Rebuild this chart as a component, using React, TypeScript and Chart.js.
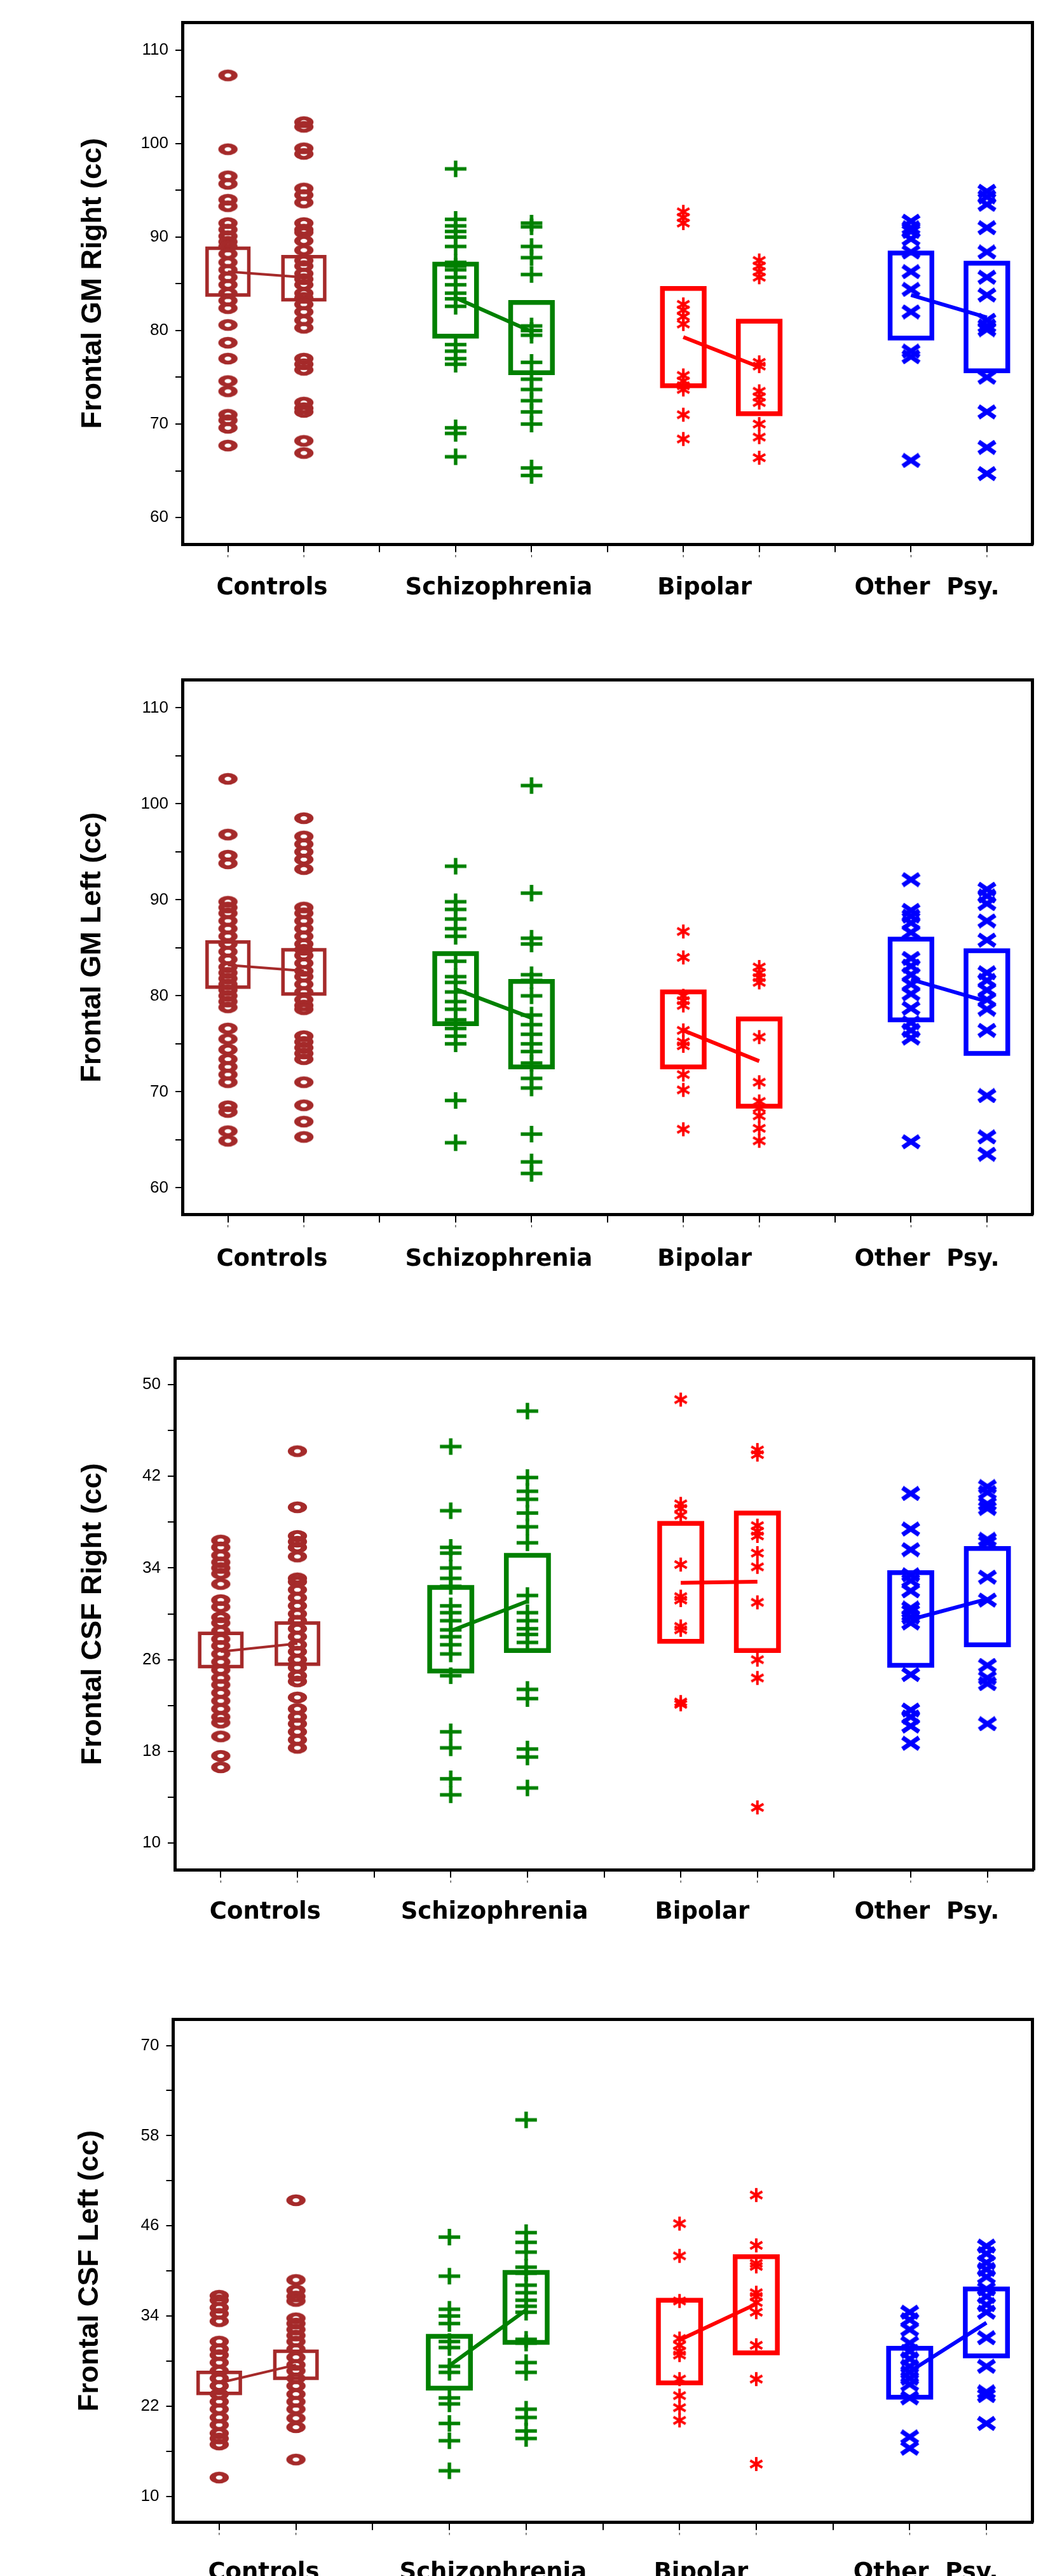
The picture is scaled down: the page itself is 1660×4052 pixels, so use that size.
import React, { useEffect, useRef } from 'react';
import { Chart, registerables } from 'chart.js';

Chart.register(...registerables);

const BROWN = '#A52A2A';
const GREEN = '#008000';
const RED = '#FF0000';
const BLUE = '#0000FF';
const groupColors = [BROWN, GREEN, RED, BLUE];

// ---------- shared categories / ticks ----------
const groupNames = ['Controls', 'Schizophrenia', 'Bipolar', 'Other  Psy.'];
const groupLabelPos = [1.58, 4.57, 7.28, 10.21];
const columnX = [1, 2, 4, 5, 7, 8, 10, 11];
const xTickValues = [1, 2, 3, 4, 5, 6, 7, 8, 9, 10, 11];
const xGapTicks = [3, 6, 9];
const xMin = 0.4;
const xMax = 11.6;

// ---------- Panel 1: Frontal GM Right ----------
const gmRightTitle = 'Frontal GM Right (cc)';
const gmRightControls1 = [107.3, 99.4, 96.5, 95.7, 94.0, 93.3, 91.5, 90.8, 90.1, 89.5, 89.0, 88.2, 87.3, 86.5, 85.7, 84.9, 84.0, 83.2, 82.4, 80.6, 78.7, 77.0, 74.6, 73.5, 71.0, 70.4, 69.6, 67.7];
const gmRightControls2 = [102.3, 101.8, 99.5, 98.9, 95.2, 94.5, 93.7, 91.5, 90.8, 90.5, 89.6, 88.6, 87.5, 86.9, 86.1, 85.5, 84.9, 84.0, 83.5, 82.8, 82.0, 81.1, 80.3, 77.0, 76.4, 75.8, 72.3, 71.7, 71.3, 68.2, 66.9];
const gmRightSchizo1 = [97.3, 91.9, 91.2, 90.6, 90.0, 89.0, 87.3, 86.9, 86.5, 85.7, 84.9, 84.0, 83.4, 82.6, 78.5, 77.8, 77.0, 76.4, 69.6, 69.0, 66.5];
const gmRightSchizo2 = [91.5, 91.1, 89.0, 87.8, 86.0, 80.5, 80.0, 79.5, 76.6, 74.8, 73.7, 72.5, 71.3, 70.0, 65.3, 64.5];
const gmRightBipolar1 = [92.7, 92.1, 91.5, 82.8, 82.2, 81.5, 80.7, 75.2, 74.6, 74.1, 73.7, 71.0, 68.4];
const gmRightBipolar2 = [87.5, 86.9, 86.3, 85.7, 76.6, 76.2, 73.5, 72.9, 72.3, 70.0, 68.6, 66.4];
const gmRightOther1 = [91.7, 91.0, 90.6, 89.8, 88.4, 86.3, 84.4, 82.0, 77.8, 77.2, 66.1];
const gmRightOther2 = [94.9, 94.3, 93.5, 91.0, 88.4, 85.7, 83.8, 81.1, 80.5, 80.1, 75.0, 71.3, 67.5, 64.7];
const gmRightBoxLow = [83.8, 83.3, 79.4, 75.5, 74.1, 71.1, 79.2, 75.7];
const gmRightBoxHigh = [88.8, 87.9, 87.1, 83.0, 84.5, 81.0, 88.3, 87.2];
const gmRightMeans = [86.3, 85.7, 83.5, 79.9, 79.3, 76.1, 83.8, 81.4];
const gmTicks = [60, 65, 70, 75, 80, 85, 90, 95, 100, 105, 110];
const gmTickLabels = [60, 70, 80, 90, 100, 110];

// ---------- Panel 2: Frontal GM Left ----------
const gmLeftTitle = 'Frontal GM Left (cc)';
const gmLeftControls1 = [102.6, 96.8, 94.6, 93.8, 89.8, 89.2, 88.6, 87.8, 87.0, 86.2, 85.4, 84.6, 83.8, 83.0, 82.4, 81.8, 81.2, 80.6, 80.0, 79.4, 78.8, 76.6, 75.5, 74.4, 73.4, 72.6, 71.8, 71.0, 68.5, 67.9, 65.9, 64.9];
const gmLeftControls2 = [98.5, 96.6, 95.8, 95.0, 94.2, 93.2, 89.2, 88.6, 87.8, 87.0, 86.2, 85.4, 84.8, 84.2, 83.4, 82.6, 82.0, 81.2, 80.4, 79.6, 79.0, 78.6, 75.8, 75.2, 74.6, 74.0, 73.4, 71.0, 68.6, 66.9, 65.3];
const gmLeftSchizo1 = [93.5, 89.8, 89.0, 88.0, 87.0, 86.2, 83.6, 82.0, 81.4, 80.4, 79.4, 78.6, 77.5, 76.6, 75.8, 75.0, 69.1, 64.7];
const gmLeftSchizo2 = [101.9, 90.7, 86.0, 85.4, 82.2, 81.6, 80.0, 78.0, 77.0, 76.0, 75.0, 74.2, 73.0, 71.4, 70.4, 65.6, 62.7, 61.5];
const gmLeftBipolar1 = [86.7, 84.0, 80.0, 79.5, 79.0, 76.4, 75.2, 74.8, 71.8, 70.2, 66.1];
const gmLeftBipolar2 = [83.0, 82.4, 81.9, 81.4, 75.7, 71.0, 69.0, 68.3, 67.5, 66.2, 64.9];
const gmLeftOther1 = [92.1, 88.9, 88.3, 87.6, 86.6, 83.9, 83.1, 82.2, 81.2, 80.2, 78.7, 77.2, 76.4, 75.6, 64.8];
const gmLeftOther2 = [91.1, 90.4, 89.6, 87.8, 85.8, 82.4, 81.6, 80.6, 79.6, 78.6, 76.4, 69.6, 65.3, 63.5];
const gmLeftBoxLow = [80.9, 80.2, 77.1, 72.6, 72.6, 68.5, 77.5, 74.0];
const gmLeftBoxHigh = [85.6, 84.8, 84.4, 81.5, 80.4, 77.6, 85.9, 84.7];
const gmLeftMeans = [83.2, 82.6, 80.7, 77.7, 76.4, 73.2, 81.7, 79.4];

// ---------- Panel 3: Frontal CSF Right ----------
const csfRightTitle = 'Frontal CSF Right (cc)';
const csfRightControls1 = [36.4, 35.8, 35.1, 34.5, 34.0, 33.5, 32.6, 31.2, 30.6, 29.7, 29.2, 28.5, 27.8, 27.2, 26.5, 25.8, 25.1, 24.4, 23.8, 23.1, 22.4, 21.7, 21.0, 20.5, 19.3, 17.6, 16.6];
const csfRightControls2 = [44.2, 39.3, 36.8, 36.3, 35.8, 35.0, 33.1, 32.8, 32.1, 31.4, 30.7, 30.0, 29.4, 28.7, 28.0, 27.3, 26.7, 26.0, 25.3, 24.6, 24.1, 22.7, 21.7, 21.0, 20.4, 19.7, 19.0, 18.3];
const csfRightSchizo1 = [44.6, 39.0, 35.8, 35.3, 34.0, 33.1, 32.4, 30.7, 30.1, 29.4, 28.6, 28.0, 27.3, 26.5, 24.6, 19.7, 18.3, 15.6, 14.2];
const csfRightSchizo2 = [47.7, 41.9, 40.7, 40.0, 38.8, 37.6, 36.2, 31.6, 30.1, 29.4, 28.7, 28.2, 27.5, 23.4, 22.6, 18.2, 17.5, 14.8];
const csfRightBipolar1 = [48.7, 39.6, 39.2, 38.6, 34.3, 31.5, 31.2, 28.9, 28.6, 22.3, 22.1];
const csfRightBipolar2 = [44.3, 43.9, 37.7, 37.2, 36.8, 35.3, 34.1, 31.0, 26.0, 24.4, 13.1];
const csfRightOther1 = [40.5, 37.4, 35.6, 33.4, 32.9, 32.0, 30.5, 30.2, 29.7, 29.2, 24.7, 21.6, 21.0, 20.2, 18.7];
const csfRightOther2 = [41.1, 40.6, 39.6, 39.2, 36.5, 36.2, 33.2, 31.2, 25.5, 24.4, 23.9, 20.4];
const csfRightBoxLow = [25.4, 25.6, 25.0, 26.8, 27.6, 26.8, 25.5, 27.3];
const csfRightBoxHigh = [28.3, 29.2, 32.3, 35.1, 37.9, 38.8, 33.6, 35.7];
const csfRightMeans = [26.7, 27.4, 28.5, 31.1, 32.7, 32.8, 29.5, 31.3];
const csfRightTicks = [10, 14, 18, 22, 26, 30, 34, 38, 42, 46, 50];
const csfRightTickLabels = [10, 18, 26, 34, 42, 50];

// ---------- Panel 4: Frontal CSF Left ----------
const csfLeftTitle = 'Frontal CSF Left (cc)';
const csfLeftControls1 = [36.7, 36.1, 35.1, 34.3, 33.3, 30.6, 29.6, 28.8, 27.8, 26.7, 25.7, 24.7, 23.6, 22.6, 21.6, 20.5, 19.5, 18.4, 17.7, 16.9, 12.5];
const csfLeftControls2 = [49.4, 38.8, 37.4, 36.6, 36.0, 33.7, 33.0, 32.2, 31.4, 30.6, 29.6, 28.5, 27.5, 26.7, 25.7, 24.7, 23.6, 22.6, 21.6, 20.4, 19.2, 14.9];
const csfLeftSchizo1 = [44.5, 39.3, 34.9, 34.0, 33.0, 30.6, 29.8, 27.3, 26.5, 23.1, 22.3, 19.7, 17.4, 13.4];
const csfLeftSchizo2 = [60.1, 45.1, 43.8, 42.5, 40.5, 39.7, 38.1, 37.1, 36.1, 35.3, 34.5, 30.9, 30.4, 27.8, 26.5, 21.6, 20.5, 18.7, 17.7];
const csfLeftBipolar1 = [46.3, 42.0, 36.0, 31.0, 30.1, 29.3, 28.8, 25.6, 23.4, 21.8, 20.1];
const csfLeftBipolar2 = [50.1, 43.4, 41.0, 40.6, 37.1, 36.6, 35.8, 34.5, 30.1, 25.6, 14.3];
const csfLeftOther1 = [34.5, 33.5, 32.2, 30.4, 29.3, 28.3, 27.3, 26.5, 25.7, 24.9, 23.1, 17.9, 16.4];
const csfLeftOther2 = [43.3, 42.3, 41.1, 40.2, 39.2, 37.6, 36.6, 35.5, 34.5, 31.1, 27.3, 23.9, 23.4, 19.7];
const csfLeftBoxLow = [23.7, 25.7, 24.4, 30.5, 25.1, 29.1, 23.2, 28.7];
const csfLeftBoxHigh = [26.5, 29.3, 31.3, 39.8, 36.1, 41.9, 29.7, 37.6];
const csfLeftMeans = [25.1, 27.5, 27.4, 34.8, 30.8, 35.6, 26.6, 33.1];
const csfLeftTicks = [10, 16, 22, 28, 34, 40, 46, 52, 58, 64, 70];
const csfLeftTickLabels = [10, 22, 34, 46, 58, 70];

type PanelSpec = {
  title: string;
  cols: number[][];
  boxLow: number[];
  boxHigh: number[];
  means: number[];
  yMin: number;
  yMax: number;
  yTicks: number[];
  yLabels: number[];
};

const panels: PanelSpec[] = [
  {
    title: gmRightTitle,
    cols: [gmRightControls1, gmRightControls2, gmRightSchizo1, gmRightSchizo2, gmRightBipolar1, gmRightBipolar2, gmRightOther1, gmRightOther2],
    boxLow: gmRightBoxLow, boxHigh: gmRightBoxHigh, means: gmRightMeans,
    yMin: 57.12, yMax: 112.97, yTicks: gmTicks, yLabels: gmTickLabels,
  },
  {
    title: gmLeftTitle,
    cols: [gmLeftControls1, gmLeftControls2, gmLeftSchizo1, gmLeftSchizo2, gmLeftBipolar1, gmLeftBipolar2, gmLeftOther1, gmLeftOther2],
    boxLow: gmLeftBoxLow, boxHigh: gmLeftBoxHigh, means: gmLeftMeans,
    yMin: 57.19, yMax: 112.89, yTicks: gmTicks, yLabels: gmTickLabels,
  },
  {
    title: csfRightTitle,
    cols: [csfRightControls1, csfRightControls2, csfRightSchizo1, csfRightSchizo2, csfRightBipolar1, csfRightBipolar2, csfRightOther1, csfRightOther2],
    boxLow: csfRightBoxLow, boxHigh: csfRightBoxHigh, means: csfRightMeans,
    yMin: 7.63, yMax: 52.31, yTicks: csfRightTicks, yLabels: csfRightTickLabels,
  },
  {
    title: csfLeftTitle,
    cols: [csfLeftControls1, csfLeftControls2, csfLeftSchizo1, csfLeftSchizo2, csfLeftBipolar1, csfLeftBipolar2, csfLeftOther1, csfLeftOther2],
    boxLow: csfLeftBoxLow, boxHigh: csfLeftBoxHigh, means: csfLeftMeans,
    yMin: 6.53, yMax: 73.47, yTicks: csfLeftTicks, yLabels: csfLeftTickLabels,
  },
];

// ---------- layout (pixels) ----------
type Layout = {
  top: number; h: number; frameTop: number; frameBottom: number;
  frameLeft: number; frameRight: number; titleCenter: number; catOffset: number;
};
const layouts: Layout[] = [
  { top: 0, h: 1000, frameTop: 35.2, frameBottom: 856.4, frameLeft: 287, frameRight: 1624.5, titleCenter: 147, catOffset: 69 },
  { top: 1000, h: 1060, frameTop: 69.7, frameBottom: 910.9, frameLeft: 287, frameRight: 1624.5, titleCenter: 146, catOffset: 70 },
  { top: 2060, h: 1030, frameTop: 76.5, frameBottom: 881.6, frameLeft: 275, frameRight: 1626, titleCenter: 147, catOffset: 67 },
  { top: 3090, h: 962, frameTop: 86.5, frameBottom: 877.7, frameLeft: 272.5, frameRight: 1624.5, titleCenter: 142, catOffset: 80 },
];

const BOX_HALF = 0.275;
const X_AXIS_H = 35;
const CAT_FONT = 37;
const TITLE_FONT = 45;

function makeMarker(kind: number): HTMLCanvasElement {
  const c = document.createElement('canvas');
  if (kind === 0) {
    c.width = 34; c.height = 22;
    const ctx = c.getContext('2d')!;
    ctx.translate(17, 11);
    ctx.scale(1.65, 1);
    ctx.beginPath();
    ctx.arc(0, 0, 6.2, 0, Math.PI * 2);
    ctx.lineWidth = 6;
    ctx.strokeStyle = BROWN;
    ctx.stroke();
  } else if (kind === 1) {
    c.width = 36; c.height = 28;
    const ctx = c.getContext('2d')!;
    ctx.strokeStyle = GREEN;
    ctx.lineWidth = 5.5;
    ctx.beginPath();
    ctx.moveTo(1, 14); ctx.lineTo(35, 14);
    ctx.moveTo(18, 1); ctx.lineTo(18, 27);
    ctx.stroke();
  } else if (kind === 2) {
    c.width = 26; c.height = 26;
    const ctx = c.getContext('2d')!;
    ctx.strokeStyle = RED;
    ctx.lineWidth = 4;
    ctx.translate(13, 13);
    ctx.beginPath();
    for (const a of [90, 30, 150]) {
      const r = (a * Math.PI) / 180;
      ctx.moveTo(-11 * Math.cos(r), -11 * Math.sin(r));
      ctx.lineTo(11 * Math.cos(r), 11 * Math.sin(r));
    }
    ctx.stroke();
  } else {
    c.width = 32; c.height = 24;
    const ctx = c.getContext('2d')!;
    ctx.strokeStyle = BLUE;
    ctx.lineWidth = 7;
    ctx.beginPath();
    ctx.moveTo(3, 3); ctx.lineTo(29, 21);
    ctx.moveTo(29, 3); ctx.lineTo(3, 21);
    ctx.stroke();
  }
  return c;
}

function buildConfig(spec: PanelSpec, lay: Layout, markers: HTMLCanvasElement[]): any {
  const datasets: any[] = [];
  spec.cols.forEach((vals, i) => {
    const g = Math.floor(i / 2);
    datasets.push({
      label: `${groupNames[g]} ${(i % 2) + 1}`,
      data: vals.map((v) => ({ x: columnX[i], y: v })),
      pointStyle: markers[g],
      pointRadius: 8,
      pointHoverRadius: 8,
      showLine: false,
      borderColor: groupColors[g],
      backgroundColor: groupColors[g],
      xAxisID: 'x',
      yAxisID: 'y',
    });
  });
  for (let g = 0; g < 4; g++) {
    datasets.push({
      label: `${groupNames[g]} mean`,
      data: [
        { x: columnX[2 * g], y: spec.means[2 * g] },
        { x: columnX[2 * g + 1], y: spec.means[2 * g + 1] },
      ],
      showLine: true,
      pointRadius: 0,
      borderColor: groupColors[g],
      borderWidth: g === 0 ? 4 : 6,
      borderCapStyle: 'butt',
      fill: false,
      tension: 0,
      xAxisID: 'x',
      yAxisID: 'y',
    });
  }
  spec.cols.forEach((_, i) => {
    const g = Math.floor(i / 2);
    const cx = columnX[i];
    const lo = spec.boxLow[i];
    const hi = spec.boxHigh[i];
    datasets.push({
      label: `${groupNames[g]} box ${(i % 2) + 1}`,
      data: [
        { x: cx - BOX_HALF, y: lo },
        { x: cx + BOX_HALF, y: lo },
        { x: cx + BOX_HALF, y: hi },
        { x: cx - BOX_HALF, y: hi },
        { x: cx - BOX_HALF, y: lo },
      ],
      showLine: true,
      pointRadius: 0,
      borderColor: groupColors[g],
      borderWidth: g === 0 ? 5.5 : 7.5,
      borderJoinStyle: 'miter',
      borderCapStyle: 'square',
      fill: false,
      tension: 0,
      xAxisID: 'x',
      yAxisID: 'y',
    });
  });

  const catAxisH = lay.h - lay.frameBottom - X_AXIS_H;
  const catPadding = lay.catOffset - X_AXIS_H - (CAT_FONT * 1.2) / 2;
  const titlePad = lay.titleCenter - (TITLE_FONT * 1.2) / 2;

  return {
    type: 'scatter',
    data: { datasets },
    options: {
      animation: false,
      responsive: false,
      devicePixelRatio: 1,
      events: [],
      plugins: { legend: { display: false }, tooltip: { enabled: false } },
      layout: { padding: { left: 0, right: 1660 - lay.frameRight, top: lay.frameTop, bottom: 0 } },
      scales: {
        x: {
          type: 'linear',
          position: 'bottom',
          weight: 0,
          min: xMin,
          max: xMax,
          afterBuildTicks: (s: any) => { s.ticks = xTickValues.map((v) => ({ value: v })); },
          ticks: {
            autoSkip: false, maxRotation: 0, minRotation: 0,
            callback: (v: number) => (xGapTicks.includes(v) ? '' : "'"),
            font: { family: 'DejaVu Sans', size: 12 },
            color: '#000',
            padding: 3,
          },
          grid: { display: true, drawOnChartArea: false, drawTicks: true, tickLength: 12, tickWidth: 2, tickColor: '#000', color: '#000', lineWidth: 2 },
          border: { display: true, color: '#000', width: 5 },
          afterFit: (s: any) => { s.height = X_AXIS_H; },
        },
        xc: {
          type: 'linear',
          position: 'bottom',
          weight: 1,
          min: xMin,
          max: xMax,
          afterBuildTicks: (s: any) => { s.ticks = groupLabelPos.map((v) => ({ value: v })); },
          ticks: {
            autoSkip: false, maxRotation: 0, minRotation: 0,
            callback: (_v: number, i: number) => groupNames[i],
            font: { family: 'DejaVu Sans', weight: 'bold', size: CAT_FONT },
            color: '#000',
            padding: catPadding,
          },
          grid: { display: false, drawTicks: false },
          border: { display: false },
          afterFit: (s: any) => { s.height = catAxisH; },
        },
        xt: {
          type: 'linear',
          position: 'top',
          min: xMin,
          max: xMax,
          ticks: { display: false },
          grid: { display: false, drawTicks: false },
          border: { display: true, color: '#000', width: 5 },
          afterFit: (s: any) => { s.height = 0; },
        },
        y: {
          type: 'linear',
          position: 'left',
          min: spec.yMin,
          max: spec.yMax,
          afterBuildTicks: (s: any) => { s.ticks = spec.yTicks.map((v) => ({ value: v })); },
          ticks: {
            autoSkip: false,
            callback: (v: number) => (spec.yLabels.includes(v) ? String(v) : ''),
            font: { family: "'Liberation Sans', Arial, sans-serif", size: 26 },
            color: '#000',
            padding: 11,
          },
          grid: { display: true, drawOnChartArea: false, drawTicks: true, tickLength: 11, tickWidth: 2, tickColor: '#000', color: '#000', lineWidth: 2 },
          border: { display: true, color: '#000', width: 5 },
          title: {
            display: true,
            text: spec.title,
            font: { family: "'Liberation Sans', Arial, sans-serif", weight: 'bold', size: TITLE_FONT },
            color: '#000',
            padding: { top: titlePad, bottom: 0 },
          },
          afterFit: (s: any) => { s.width = lay.frameLeft; },
        },
        yr: {
          type: 'linear',
          position: 'right',
          min: spec.yMin,
          max: spec.yMax,
          ticks: { display: false },
          grid: { display: false, drawTicks: false },
          border: { display: true, color: '#000', width: 5 },
          afterFit: (s: any) => { s.width = 0; },
        },
      },
    },
  };
}

export default function App() {
  const canvases = useRef<(HTMLCanvasElement | null)[]>([]);

  useEffect(() => {
    const markers = [0, 1, 2, 3].map(makeMarker);
    const charts = panels.map((p, i) => new Chart(canvases.current[i] as HTMLCanvasElement, buildConfig(p, layouts[i], markers)));
    return () => charts.forEach((c) => c.destroy());
  }, []);

  return (
    <div style={{ position: 'absolute', left: 0, top: 0, width: 1660, height: 4052, overflow: 'hidden', background: '#fff' }}>
      {layouts.map((l, i) => (
        <canvas
          key={i}
          ref={(el) => { canvases.current[i] = el; }}
          width={1660}
          height={l.h}
          style={{ position: 'absolute', left: 0, top: l.top, width: '1660px', height: `${l.h}px` }}
        />
      ))}
    </div>
  );
}
